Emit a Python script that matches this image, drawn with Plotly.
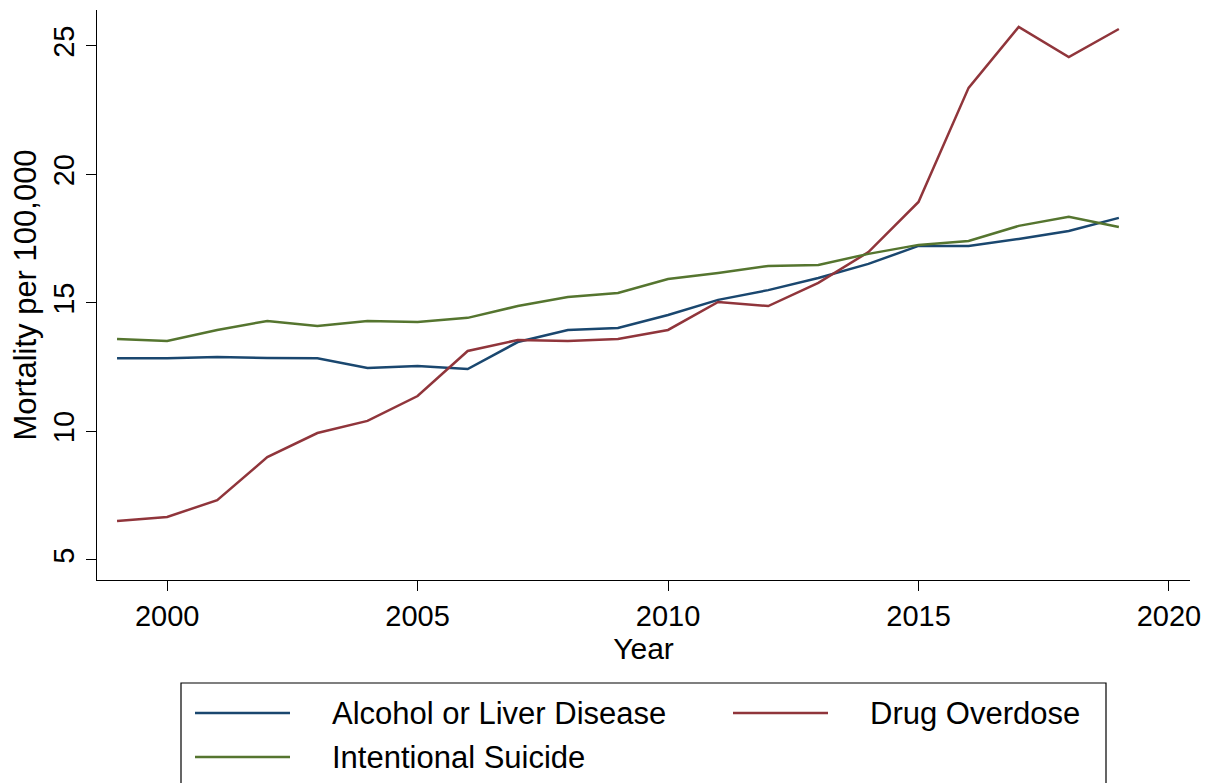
import plotly.graph_objects as go

# Mortality per 100,000 by cause, 1999-2019
years = list(range(1999, 2020))
alcohol_liver = [12.85, 12.85, 12.9, 12.86, 12.85, 12.47, 12.55, 12.43, 13.48, 13.95, 14.03,
                 14.53, 15.12, 15.5, 15.97, 16.52, 17.22, 17.22, 17.49, 17.8, 18.31]
drug_overdose = [6.52, 6.67, 7.33, 9.0, 9.94, 10.41, 11.38, 13.13, 13.56, 13.52, 13.6,
                 13.95, 15.04, 14.88, 15.78, 16.98, 18.93, 23.37, 25.74, 24.57, 25.66]
suicide = [13.6, 13.52, 13.95, 14.3, 14.1, 14.3, 14.26, 14.42, 14.88, 15.23, 15.39,
           15.93, 16.17, 16.44, 16.48, 16.91, 17.26, 17.41, 18.0, 18.35, 17.96]

series_names = ["Alcohol or Liver Disease", "Drug Overdose", "Intentional Suicide"]
series_colors = ["#1a476f", "#90353b", "#55752f"]
series_values = [alcohol_liver, drug_overdose, suicide]

x_ticks = [2000, 2005, 2010, 2015, 2020]
y_ticks = [5, 10, 15, 20, 25]

FONT = "Liberation Sans, Arial, Helvetica, sans-serif"

fig = go.Figure()
for name, color, vals in zip(series_names, series_colors, series_values):
    fig.add_trace(go.Scatter(x=years, y=vals, name=name, mode="lines",
                             line=dict(color=color, width=2.5), showlegend=False))

# Legend box with line samples and labels, laid out in two columns
L, R, T, B = 97, 1190, 10, 580
W, H = R - L, B - T


def px(x):
    return (x - L) / W


def py(y):
    return (B - y) / H


shapes = [dict(type="rect", xref="paper", yref="paper",
               x0=px(181), x1=px(1106), y0=py(683), y1=py(790),
               line=dict(color="black", width=1.2), fillcolor="white", layer="below")]
annotations = []
legend_pos = [(195, 713), (733, 713), (195, 757)]
for (lx, ly), name, color in zip(legend_pos, series_names, series_colors):
    shapes.append(dict(type="line", xref="paper", yref="paper",
                       x0=px(lx), x1=px(lx + 95), y0=py(ly), y1=py(ly),
                       line=dict(color=color, width=2.5)))
    annotations.append(dict(xref="paper", yref="paper", x=px(lx + 135), y=py(ly),
                            text=name, showarrow=False, xanchor="left", yanchor="middle",
                            font=dict(family=FONT, size=31, color="black")))

fig.update_layout(
    width=1217, height=783,
    margin=dict(l=L, r=1217 - R, t=T, b=783 - B),
    paper_bgcolor="white", plot_bgcolor="white",
    font=dict(family=FONT, size=28, color="black"),
    shapes=shapes, annotations=annotations,
    showlegend=False,
)
fig.update_xaxes(
    range=[1998.6, 2020.42], tickvals=x_ticks, ticks="outside", ticklen=10,
    tickwidth=1.3, tickcolor="black", showline=True, linecolor="black", linewidth=1.3,
    showgrid=False, zeroline=False,
    title=dict(text="Year", standoff=4, font=dict(size=30)),
    tickfont=dict(size=29),
)
fig.update_yaxes(
    range=[4.22, 26.4], tickvals=y_ticks, ticks="outside", ticklen=10,
    tickwidth=1.3, tickcolor="black", showline=True, linecolor="black", linewidth=1.3,
    showgrid=False, zeroline=False, tickangle=-90,
    title=dict(text="Mortality per 100,000", standoff=2, font=dict(size=31)),
    tickfont=dict(size=29),
)

fig.write_html("out.html")
